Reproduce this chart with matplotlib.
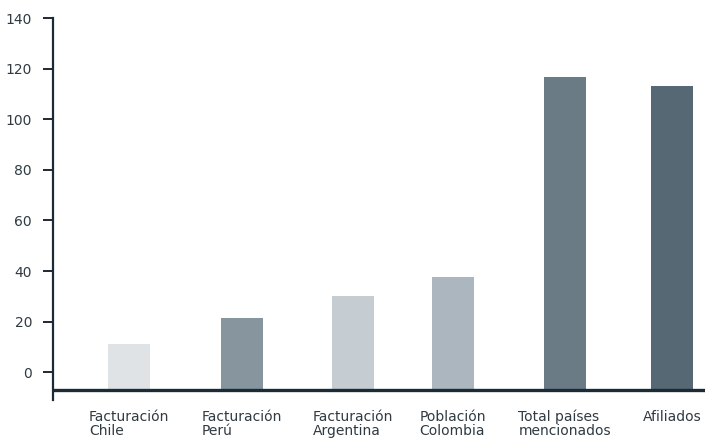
import numpy as np
import matplotlib.pyplot as plt

plt.rcParams['font.family'] = ['DejaVu Sans']

categories = ['Facturación\nChile', 'Facturación\nPerú', 'Facturación\nArgentina',
              'Población\nColombia', 'Total países\nmencionados', 'Afiliados']
values = [11, 21.3, 30, 37.6, 116.6, 113]
colors = ['#dfe3e6', '#87959e', '#c5ccd2', '#abb6be', '#6b7b86', '#566874']
yticks = [0, 20, 40, 60, 80, 100, 120, 140]

base = -7        # baseline line sits below zero
dark = '#1c2a35'
xpos = [0, 1.04, 2.06, 2.98, 4.01, 5.0]   # bar spacing in the original is a bit uneven

fig = plt.figure(figsize=(7.05, 4.42), dpi=100)
ax = fig.add_axes([0.075, 0.095, 0.925, 0.864])

ax.bar(xpos, np.array(values) - base, bottom=base, width=0.387, color=colors, zorder=2)
ax.axhline(base, color=dark, linewidth=2.4, zorder=3)

ax.set_xlim(-0.70, 5.30)
ax.set_ylim(-11, 140)
ax.set_yticks(yticks)
ax.set_xticks(xpos)
ax.set_xticklabels(categories)
for t in ax.get_xticklabels():
    t.set_multialignment('left')
    t.set_verticalalignment('top')
    t.set_linespacing(1.0)

ax.tick_params(axis='x', length=0, pad=7, labelsize=10, labelcolor='#2f3a42')
ax.tick_params(axis='y', length=7, width=1.4, color=dark, pad=8, labelsize=10, labelcolor='#2f3a42')

for s in ['top', 'right', 'bottom']:
    ax.spines[s].set_visible(False)
ax.spines['left'].set_color(dark)
ax.spines['left'].set_linewidth(1.6)

fig.savefig('out.png', dpi=100)
